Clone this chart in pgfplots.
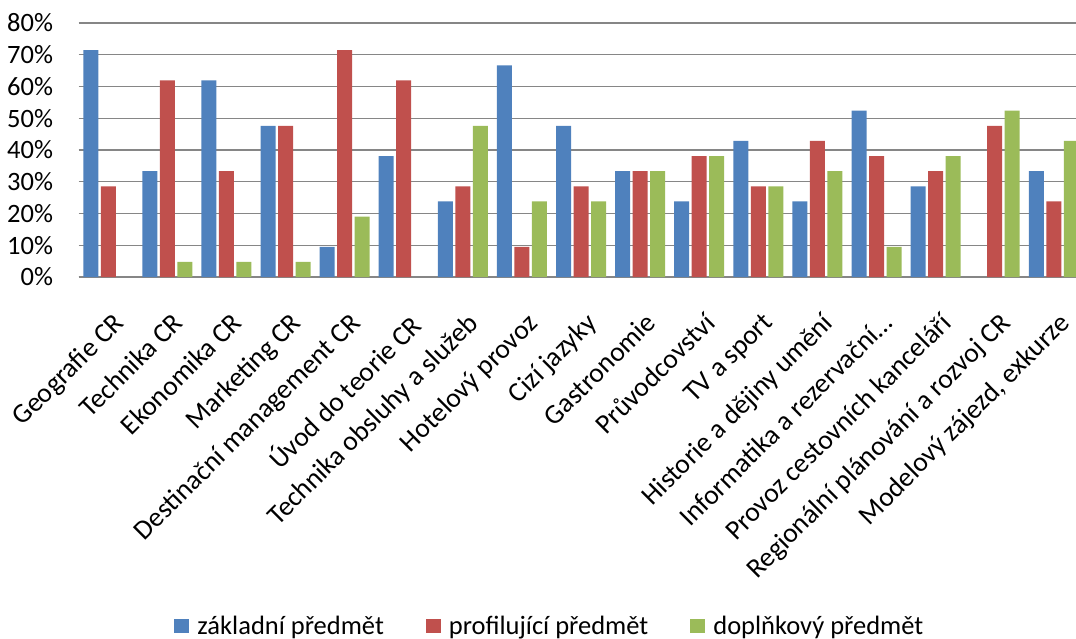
\documentclass[border=0pt]{standalone}
\usepackage{pgfplots}
\pgfplotsset{compat=1.18}
\usepackage{fontspec}
\setmainfont{Carlito}
\definecolor{cblue}{RGB}{79,129,189}
\definecolor{cred}{RGB}{192,80,77}
\definecolor{cgreen}{RGB}{155,187,89}
\definecolor{cgrid}{RGB}{134,134,134}
\begin{document}
\begin{tikzpicture}[font=\fontsize{26.5}{31}\selectfont]
\path[use as bounding box] (0,0) rectangle (1076pt,638pt);
\begin{axis}[
  at={(78.7pt,361pt)}, anchor=south west,
  scale only axis, width=1004.7pt, height=254pt,
  xmin=-0.5, xmax=16.5, ymin=0, ymax=80,
  separate axis lines,
  axis x line*=bottom, axis y line*=left,
  y axis line style={draw=none},
  x axis line style={-, draw=cgrid, line width=1.4pt},
  ymajorgrids, grid style={draw=cgrid, line width=1.3pt},
  major tick length=0pt,
  ytick={0,10,20,30,40,50,60,70,80},
  yticklabels={0\%,10\%,20\%,30\%,40\%,50\%,60\%,70\%,80\%},
  yticklabel style={anchor=east, inner sep=0pt, xshift=-25.5pt},
  xtick={0,...,16},
  xticklabels={Geografie CR, Technika CR, Ekonomika CR, Marketing CR, Destinační management CR, Úvod do teorie CR, Technika obsluhy a služeb, Hotelový provoz, Cizí jazyky, Gastronomie, Průvodcovství, TV a sport, Historie a dějiny umění, Informatika a rezervační…, Provoz cestovních kanceláří, Regionální plánování a rozvoj CR, {Modelový zájezd, exkurze}},
  xticklabel style={font=\fontsize{27.5}{32}\selectfont, xshift=3.5pt, yshift=-34pt, rotate=45, anchor=north east, inner sep=0pt},
  ybar=2.5pt, bar width=15pt,
  legend columns=3,
  legend style={at={(0.469,-1.374)}, anchor=center, draw=none, fill=none,
    /tikz/every even column/.append style={column sep=40pt},
    /tikz/every odd column/.append style={column sep=6pt}},
  legend image code/.code={\fill[#1,draw=none] (0pt,-7.2pt) rectangle (15pt,7.2pt);},
]
\addplot[fill=cblue, draw=none] coordinates {
(0,71.43) (1,33.33) (2,61.90) (3,47.62) (4,9.52) (5,38.10) (6,23.81) (7,66.67) (8,47.62) (9,33.33) (10,23.81) (11,42.86) (12,23.81) (13,52.38) (14,28.57) (16,33.33)};
\addplot[fill=cred, draw=none] coordinates {
(0,28.57) (1,61.90) (2,33.33) (3,47.62) (4,71.43) (5,61.90) (6,28.57) (7,9.52) (8,28.57) (9,33.33) (10,38.10) (11,28.57) (12,42.86) (13,38.10) (14,33.33) (15,47.62) (16,23.81)};
\addplot[fill=cgreen, draw=none] coordinates {
(1,4.76) (2,4.76) (3,4.76) (4,19.05) (6,47.62) (7,23.81) (8,23.81) (9,33.33) (10,38.10) (11,28.57) (12,33.33) (13,9.52) (14,38.10) (15,52.38) (16,42.86)};
\legend{základní předmět, profilující předmět, doplňkový předmět}
\end{axis}
\end{tikzpicture}
\end{document}
